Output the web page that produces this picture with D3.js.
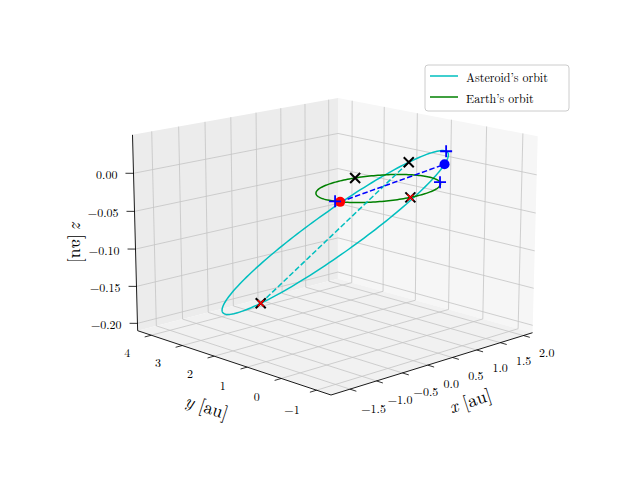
<!DOCTYPE html>
<html><head><meta charset="utf-8">
<script src="https://cdn.jsdelivr.net/npm/d3@7"></script>
<style>body{margin:0;background:#fff}</style></head>
<body><svg id="c" width="640" height="480"></svg>
<script>
// ---- data ----
const xDomain = [-1.85, 2.2];
const yDomain = [-1.4, 4.45];
const zDomain = [-0.21, 0.05];
const xTicks = [-1.5, -1.0, -0.5, 0.0, 0.5, 1.0, 1.5, 2.0];
const yTicks = [-1, 0, 1, 2, 3, 4];
const zTicks = [-0.20, -0.15, -0.10, -0.05, 0.00];
// Earth orbit: circle radius (au)
const earthRadius = 1.0;
// Asteroid orbit: centre + two semi-axis vectors (au)
const astCenter = [0.32, 1.8, -0.085];
const astAxisA = [0.92, -2.0, 0.115];
const astAxisB = [0.35, 0.16, -0.031];
// marker positions: parameter angles (deg)
const earthBluePlus = [192, -29];
const earthRedX = [-95];
const earthBlackX = [78, -95];
const earthRedDot = [198];
const astBluePlus = [-6];
const astBlackX = [137, -43];
const astRedX = [137];
const astBlueDot = [20];
const astDashed = [137, -43];
const seriesNames = ["Asteroid\u2019s orbit", "Earth\u2019s orbit"];

// ---- projection ----
const X = d3.scaleLinear().domain(xDomain).range([-2, 2]);
const Y = d3.scaleLinear().domain(yDomain).range([-2, 2]);
const Z = d3.scaleLinear().domain(zDomain).range([-1.5, 1.5]);
const az = -134 * Math.PI / 180, el = 15 * Math.PI / 180, D = 30;
const R = [-Math.sin(az), Math.cos(az), 0];
const U = [-Math.sin(el) * Math.cos(az), -Math.sin(el) * Math.sin(az), Math.cos(el)];
const F = [Math.cos(el) * Math.cos(az), Math.cos(el) * Math.sin(az), Math.sin(el)];
function raw(p) {
  const dot = v => p[0]*v[0] + p[1]*v[1] + p[2]*v[2];
  const s = D / (D - dot(F));
  return [dot(R) * s, dot(U) * s];
}
const rf = raw([-2,-2,-1.5]), rb = raw([2,2,1.5]);
const k = (395 - 98) / (rb[1] - rf[1]), kx = k * 1.045;
const cy = 395 + k * rf[1], cx = 331 - kx * rf[0];
function projN(p) { const r = raw(p); return [cx + kx * r[0], cy - k * r[1]]; }
function proj(x, y, z) { return projN([X(x), Y(y), Z(z)]); }

const svg = d3.select("#c");
const line = d3.line();
const [x0, x1] = xDomain, [y0, y1] = yDomain, [z0, z1] = zDomain;

function pane(pts, fill) {
  svg.append("path").attr("d", line(pts.map(p => proj(...p))) + "Z")
    .attr("fill", fill).attr("stroke", "none");
}
pane([[x0,y1,z0],[x1,y1,z0],[x1,y1,z1],[x0,y1,z1]], "#ececec");
pane([[x1,y0,z0],[x1,y1,z0],[x1,y1,z1],[x1,y0,z1]], "#f6f6f6");
pane([[x0,y0,z0],[x1,y0,z0],[x1,y1,z0],[x0,y1,z0]], "#f1f1f1");

function seg(a, b, col, w) {
  svg.append("path").attr("d", line([proj(...a), proj(...b)]))
    .attr("stroke", col).attr("stroke-width", w).attr("fill", "none");
}
const gc = "#c4c4c4", gw = 0.8;
xTicks.forEach(t => { seg([t,y1,z0],[t,y1,z1],gc,gw); seg([t,y0,z0],[t,y1,z0],gc,gw); });
yTicks.forEach(t => { seg([x1,t,z0],[x1,t,z1],gc,gw); seg([x0,t,z0],[x1,t,z0],gc,gw); });
zTicks.forEach(t => { seg([x0,y1,t],[x1,y1,t],gc,gw); seg([x1,y0,t],[x1,y1,t],gc,gw); });

seg([x0,y0,z0],[x1,y0,z0],"#000",0.9);
seg([x0,y0,z0],[x0,y1,z0],"#000",0.9);
seg([x0,y1,z0],[x0,y1,z1],"#000",0.9);

const font = "'Latin Modern Roman','Liberation Serif','DejaVu Serif',serif";
function label(pt, txt, size, anchor) {
  svg.append("text").attr("x", pt[0]).attr("y", pt[1]).attr("text-anchor", anchor || "middle")
    .attr("dominant-baseline", "central").attr("font-family", font)
    .attr("font-size", size).text(txt);
}
const fmt2 = v => (v < 0 ? "\u2212" : "") + Math.abs(v).toFixed(2);
const fmt1 = v => (v < 0 ? "\u2212" : "") + Math.abs(v).toFixed(1);
const fmt0 = v => (v < 0 ? "\u2212" : "") + Math.abs(v).toFixed(0);
const yr = y1 - y0, xr = x1 - x0, zr = z1 - z0;
xTicks.forEach(t => {
  seg([t,y0,z0],[t,y0 - yr*0.03,z0],"#000",0.8);
  label(proj(t, y0 - yr*0.11, z0 - zr*0.05), fmt1(t), 12);
});
yTicks.forEach(t => {
  seg([x0,t,z0],[x0 - xr*0.03,t,z0],"#000",0.8);
  label(proj(x0 - xr*0.11, t, z0 - zr*0.05), fmt0(t), 12);
});
zTicks.forEach(t => {
  seg([x0,y1,t],[x0 - xr*0.02,y1 + yr*0.02,t],"#000",0.8);
  const p = proj(x0 - xr*0.03, y1 + yr*0.03, t);
  label([p[0] - 4, p[1]], fmt2(t), 12, "end");
});
function axLabel(pt, parts, rot) {
  const t = svg.append("text").attr("transform", `translate(${pt[0]},${pt[1]}) rotate(${rot})`)
    .attr("text-anchor", "middle").attr("dominant-baseline", "central")
    .attr("font-family", font).attr("font-size", 18);
  t.append("tspan").attr("font-style", "italic").text(parts[0]);
  t.append("tspan").text(" [au]");
}
axLabel(proj((x0+x1)/2 - 0.2, y0 - yr*0.2, z0 - zr*0.1), ["x"], -18);
axLabel(proj(x0 - xr*0.22, (y0+y1)/2 - 0.8, z0 - zr*0.1), ["y"], 18);
{ const p = proj(x0, y1, (z0+z1)/2); axLabel([p[0]-55, p[1]+8], ["z"], 90); }

const earthPt = th => { const a = th*Math.PI/180; return [earthRadius*Math.cos(a), earthRadius*Math.sin(a), 0]; };
const astPt = th => { const a = th*Math.PI/180, c = Math.cos(a), s = Math.sin(a);
  return [0,1,2].map(i => astCenter[i] + astAxisA[i]*c + astAxisB[i]*s); };
const angles = d3.range(0, 361, 2);
svg.append("path").attr("d", line(angles.map(a => proj(...astPt(a))))).attr("fill","none")
  .attr("stroke","#00bfbf").attr("stroke-width",1.5);
svg.append("path").attr("d", line(angles.map(a => proj(...earthPt(a))))).attr("fill","none")
  .attr("stroke","#008000").attr("stroke-width",1.5);
svg.append("path").attr("d", line(astDashed.map(a => proj(...astPt(a))))).attr("fill","none")
  .attr("stroke","#00bfbf").attr("stroke-width",1.5).attr("stroke-dasharray","5.5,2.4");
svg.append("path").attr("d", line([proj(...earthPt(earthRedDot[0])), proj(...astPt(astBlueDot[0]))]))
  .attr("fill","none").attr("stroke","#0000ff").attr("stroke-width",1.5).attr("stroke-dasharray","5.5,2.4");

function plus(p, col) { svg.append("path").attr("d", `M${p[0]-6},${p[1]}H${p[0]+6}M${p[0]},${p[1]-6}V${p[1]+6}`).attr("stroke",col).attr("stroke-width",1.8); }
function cross(p, col) { svg.append("path").attr("d", `M${p[0]-5},${p[1]-5}L${p[0]+5},${p[1]+5}M${p[0]-5},${p[1]+5}L${p[0]+5},${p[1]-5}`).attr("stroke",col).attr("stroke-width",2); }
function smallCross(p, col) { svg.append("path").attr("d", `M${p[0]-3},${p[1]-3}L${p[0]+3},${p[1]+3}M${p[0]-3},${p[1]+3}L${p[0]+3},${p[1]-3}`).attr("stroke",col).attr("stroke-width",1.5); }
function dot(p, col) { svg.append("circle").attr("cx",p[0]).attr("cy",p[1]).attr("r",5).attr("fill",col); }
earthRedDot.forEach(a => dot(proj(...earthPt(a)), "#ff0000"));
earthBluePlus.forEach(a => plus(proj(...earthPt(a)), "#0000ff"));
earthBlackX.forEach(a => cross(proj(...earthPt(a)), "#000"));
earthRedX.forEach(a => smallCross(proj(...earthPt(a)), "#f00"));
astBlackX.forEach(a => cross(proj(...astPt(a)), "#000"));
astRedX.forEach(a => smallCross(proj(...astPt(a)), "#f00"));
astBluePlus.forEach(a => plus(proj(...astPt(a)), "#0000ff"));
astBlueDot.forEach(a => dot(proj(...astPt(a)), "#0000ff"));

const lg = svg.append("g").attr("transform","translate(425,65)");
lg.append("rect").attr("width",144).attr("height",46).attr("rx",3).attr("fill","#fff").attr("fill-opacity",0.8).attr("stroke","#ccc");
const cols = ["#00bfbf","#008000"];
seriesNames.forEach((n,i) => {
  lg.append("line").attr("x1",5).attr("x2",33).attr("y1",11+i*21).attr("y2",11+i*21).attr("stroke",cols[i]).attr("stroke-width",1.5);
  lg.append("text").attr("x",41).attr("y",11+i*21).attr("dominant-baseline","central").attr("font-family",font).attr("font-size",12).text(n);
});
</script></body></html>
